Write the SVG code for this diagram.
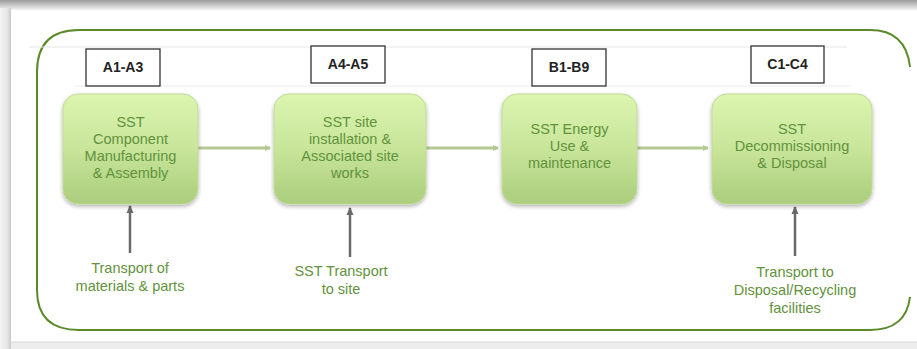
<svg xmlns="http://www.w3.org/2000/svg" width="917" height="349" viewBox="0 0 917 349">
<defs>
<linearGradient id="topbar" x1="0" y1="0" x2="0" y2="1">
<stop offset="0" stop-color="#9a9a9a"/>
<stop offset="1" stop-color="#f2f2f2"/>
</linearGradient>
<linearGradient id="leftbar" x1="0" y1="0" x2="1" y2="0">
<stop offset="0" stop-color="#f4f4f4"/>
<stop offset="0.7" stop-color="#e4e4e4"/>
<stop offset="1" stop-color="#c8c8c8"/>
</linearGradient>
<linearGradient id="nodefill" x1="0" y1="0" x2="0" y2="1">
<stop offset="0" stop-color="#dcf5b0"/>
<stop offset="0.5" stop-color="#c8e59a"/>
<stop offset="1" stop-color="#abcd7c"/>
</linearGradient>
<filter id="shadow" x="-10%" y="-10%" width="120%" height="125%">
<feGaussianBlur in="SourceAlpha" stdDeviation="2"/>
<feOffset dx="0" dy="2"/>
<feComponentTransfer><feFuncA type="linear" slope="0.3"/></feComponentTransfer>
<feMerge><feMergeNode/><feMergeNode in="SourceGraphic"/></feMerge>
</filter>
<marker id="garrow" markerWidth="6" markerHeight="6" refX="5" refY="3" orient="auto" markerUnits="userSpaceOnUse">
<path d="M0,0 L6,3 L0,6 Z" fill="#b3ca92"/>
</marker>
<marker id="darrow" markerWidth="8" markerHeight="8" refX="7" refY="4" orient="auto" markerUnits="userSpaceOnUse">
<path d="M0,0.5 L8,4 L0,7.5 Z" fill="#6a6a6a"/>
</marker>
</defs>
<style>
.node rect{fill:url(#nodefill);stroke:#bfdb98;stroke-width:1;filter:url(#shadow)}
.ntext{font-family:"Liberation Sans",Arial,sans-serif;font-size:14.5px;fill:#62923c;text-anchor:middle}
.label rect{fill:#ffffff;stroke:#333333;stroke-width:1.3}
.ltext{font-family:"Liberation Sans",Arial,sans-serif;font-size:14px;font-weight:bold;fill:#222222;text-anchor:middle}
.flow{stroke:#b3ca92;stroke-width:3;fill:none}
.input{stroke:#6a6a6a;stroke-width:2.5;fill:none}
.btext{font-family:"Liberation Sans",Arial,sans-serif;font-size:14.5px;fill:#62923c;text-anchor:middle}
.frame{fill:none;stroke:#5a8a2a;stroke-width:2}
</style>
<rect x="0" y="0" width="917" height="349" fill="#ffffff"/>
<rect x="0" y="0" width="917" height="10" fill="url(#topbar)"/>
<rect x="0" y="8" width="11" height="341" fill="url(#leftbar)"/>
<rect x="11" y="342" width="906" height="7" fill="#ededed"/>
<line x1="11" y1="342" x2="917" y2="342" stroke="#d8d8d8" stroke-width="1"/>
<g id="frame">
<path class="frame" d="M910,67 Q906,30 870,30 L79,30 Q37,30 37,72 L37,290 Q37,330 79,330 L870,330 Q906,330 910,297"/>
<line x1="29" y1="47" x2="847" y2="47" stroke="#e6e6e6" stroke-width="1"/>
<line x1="75" y1="86" x2="850" y2="86" stroke="#ececec" stroke-width="1"/>
</g>
<g id="connectors">
<line class="flow" x1="198" y1="148" x2="270" y2="148" marker-end="url(#garrow)"/>
<line class="flow" x1="426" y1="148" x2="498" y2="148" marker-end="url(#garrow)"/>
<line class="flow" x1="637" y1="148" x2="708" y2="148" marker-end="url(#garrow)"/>
<line class="input" x1="130" y1="253" x2="130" y2="206" marker-end="url(#darrow)"/>
<line class="input" x1="350" y1="257" x2="350" y2="208" marker-end="url(#darrow)"/>
<line class="input" x1="795" y1="256" x2="795" y2="207" marker-end="url(#darrow)"/>
</g>
<g id="label-a1a3" class="label"><rect x="86" y="49" width="74" height="37"/><text class="ltext" x="123" y="72">A1-A3</text></g>
<g id="label-a4a5" class="label"><rect x="311" y="46" width="74" height="37"/><text class="ltext" x="348" y="69">A4-A5</text></g>
<g id="label-b1b9" class="label"><rect x="532" y="49" width="74" height="37"/><text class="ltext" x="569" y="72">B1-B9</text></g>
<g id="label-c1c4" class="label"><rect x="751" y="46" width="73" height="37"/><text class="ltext" x="787.5" y="69">C1-C4</text></g>
<g id="node1" class="node"><rect x="63" y="94" width="135" height="110" rx="15"/>
<text class="ntext" x="130.5" y="127">SST</text><text class="ntext" x="130.5" y="144">Component</text><text class="ntext" x="130.5" y="161">Manufacturing</text><text class="ntext" x="130.5" y="178">&amp; Assembly</text></g>
<g id="node2" class="node"><rect x="274" y="94" width="152" height="110" rx="15"/>
<text class="ntext" x="350" y="127">SST site</text><text class="ntext" x="350" y="144">installation &amp;</text><text class="ntext" x="350" y="161">Associated site</text><text class="ntext" x="350" y="178">works</text></g>
<g id="node3" class="node"><rect x="502" y="94" width="135" height="110" rx="15"/>
<text class="ntext" x="569.5" y="134">SST Energy</text><text class="ntext" x="569.5" y="151">Use &amp;</text><text class="ntext" x="569.5" y="168">maintenance</text></g>
<g id="node4" class="node"><rect x="712" y="94" width="160" height="110" rx="15"/>
<text class="ntext" x="792" y="134">SST</text><text class="ntext" x="792" y="151">Decommissioning</text><text class="ntext" x="792" y="168">&amp; Disposal</text></g>
<g id="input1"><text class="btext" x="130" y="273">Transport of</text><text class="btext" x="130" y="291">materials &amp; parts</text></g>
<g id="input2"><text class="btext" x="341" y="276">SST Transport</text><text class="btext" x="341" y="294">to site</text></g>
<g id="input3"><text class="btext" x="795" y="277">Transport to</text><text class="btext" x="795" y="295">Disposal/Recycling</text><text class="btext" x="795" y="313">facilities</text></g>
</svg>
